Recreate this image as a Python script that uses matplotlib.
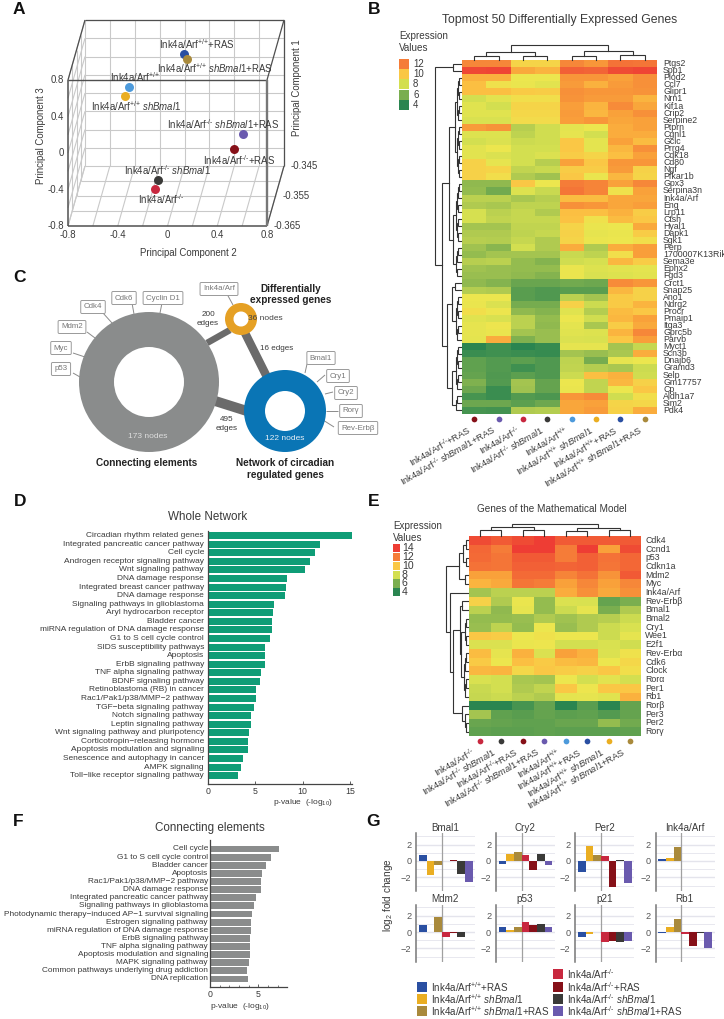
import numpy as np
import matplotlib
matplotlib.use("Agg")
import matplotlib.pyplot as plt
from matplotlib.colors import LinearSegmentedColormap
from matplotlib.patches import Wedge, Rectangle

plt.rcParams.update({
    'font.family': ['Liberation Sans', 'DejaVu Sans'],
    'mathtext.fontset': 'custom',
    'mathtext.rm': 'Liberation Sans',
    'mathtext.it': 'Liberation Sans:italic',
    'mathtext.bf': 'Liberation Sans:bold',
    'text.color': '#333333',
    'axes.unicode_minus': True,
})

W, H = 724, 1019
TXT = '#3a3a3a'

# ---------- labels / colours
WT = r'Ink4a/Arf$^{\text{+/+}}$'
KO = r'Ink4a/Arf$^{\text{-/-}}$'
SH = r'$\ \mathit{shBmal1}$'
RAS = '+RAS'
COND = {
    'wt': WT, 'wt_ras': WT + RAS, 'wt_sh': WT + SH, 'wt_sh_ras': WT + SH + RAS,
    'ko': KO, 'ko_ras': KO + RAS, 'ko_sh': KO + SH, 'ko_sh_ras': KO + SH + RAS,
}
COL = {
    'wt': '#4D9ADB', 'wt_ras': '#2A4FA2', 'wt_sh': '#EAAE22', 'wt_sh_ras': '#A98A3C',
    'ko': '#C8283F', 'ko_ras': '#861018', 'ko_sh': '#3A3A38', 'ko_sh_ras': '#6A5AAE',
}

# ---------- panel A data
pca_keys = ['wt_ras', 'wt_sh_ras', 'wt', 'wt_sh', 'ko_sh_ras', 'ko_ras', 'ko_sh', 'ko']
pca_pc2 = [0.064, 0.088, -0.378, -0.41, 0.539, 0.466, -0.145, -0.169]
pca_pc3 = [0.756, 0.701, 0.395, 0.296, -0.121, -0.285, -0.625, -0.723]
pca_pc1 = [-0.355] * 8
pca_label_pos = [(197, 44), (215, 68), (135, 77), (136, 106), (223, 124), (239, 160), (167, 170), (161, 199)]

# ---------- panel B data
b_genes = ['Ptgs2', 'Spp1', 'Plod2', 'Ccl7', 'Glipr1', 'Nrn1', 'Kif1a', 'Crip2', 'Serpine2', 'Ptprn', 'Cgnl1', 'Gclc',
           'Prrg4', 'Cdk18', 'Cd80', 'Ngf', 'Pfkar1b', 'Gpx3', 'Serpina3n', 'Ink4a/Arf', 'Eng', 'Lrp11', 'Ctsh',
           'Hyal1', 'Dapk1', 'Sgk1', 'Perp', '1700007K13Rik', 'Sema3e', 'Ephx2', 'Fgd3', 'Crct1', 'Snap25', 'Ano1',
           'Ndrg2', 'Procr', 'Pmaip1', 'Itga3', 'Gprc5b', 'Parvb', 'Myct1', 'Scn3b', 'Dnajb6', 'Gramd3', 'Selp',
           'Gm17757', 'Cp', 'Aldh1a7', 'Sim2', 'Pdk4']
b_vals = [
    [11.7, 11.7, 9.6, 9.6, 11.7, 11.3, 12.3, 12.2],
    [13.6, 13.7, 10.8, 10.5, 12.8, 12.7, 13.5, 13.7],
    [10.6, 10.6, 9, 9, 11.3, 11.3, 11, 11.5],
    [10.2, 9.2, 8.9, 8.6, 11.2, 10.6, 11.2, 11.5],
    [10.2, 10.2, 9.9, 9.8, 11.5, 11.3, 11.3, 11.4],
    [8, 8.6, 9.3, 9.3, 11.4, 11.2, 11.2, 10.5],
    [8.5, 8, 9.6, 9.6, 11.1, 10.5, 11.6, 10.9],
    [8.5, 8.5, 9.5, 9.5, 11.2, 10.4, 11, 11.5],
    [8.2, 8.2, 9.4, 9.4, 11.1, 11.3, 10.9, 11],
    [11.2, 11.4, 7.2, 7.9, 8.7, 9, 10.7, 11],
    [8.4, 8.4, 7.4, 7.9, 8.8, 8, 10.7, 10.7],
    [8, 8.3, 7.8, 7.9, 10, 8.7, 11, 10.3],
    [8.6, 9, 8, 8, 10, 8.7, 10.4, 11.5],
    [8.6, 8.3, 8, 8.3, 9.8, 9.6, 10.2, 11],
    [9.7, 8.8, 8, 7.2, 11, 10, 11.3, 11.3],
    [9.7, 9.6, 7.5, 7.7, 9.8, 9.8, 11.2, 9.7],
    [9.7, 9.3, 7, 6.7, 10, 8.9, 10.4, 9.6],
    [6.4, 6.4, 10, 9, 12, 11.8, 11, 11.7],
    [6.5, 5.8, 8.4, 7.7, 12.2, 11.8, 9.2, 11],
    [7.3, 7.3, 6.9, 7.2, 10.3, 10.3, 10.9, 10.9],
    [7, 6.9, 7.4, 7.4, 11.5, 11.3, 10.9, 11.1],
    [8.1, 7.3, 7.6, 7, 10.2, 10.2, 10.6, 9.8],
    [8.1, 7.5, 7.6, 7.6, 10.1, 9.2, 10.3, 10],
    [6.8, 6.8, 7.5, 7.5, 9.6, 8.9, 9, 10.8],
    [7, 7, 7.4, 7.6, 9.7, 8.8, 8.9, 9.8],
    [7.2, 7.1, 7.6, 7, 9.6, 8.9, 9, 9.3],
    [6.7, 6.3, 8, 7, 10.7, 7, 10.7, 11.1],
    [6.5, 6.8, 6.8, 6.8, 7.7, 7.4, 9.3, 11.1],
    [7.2, 7.3, 6.5, 6.2, 7.9, 8.1, 10.4, 9.8],
    [6.7, 6.6, 6.5, 6.5, 8.9, 8.4, 8.6, 8.7],
    [6.6, 6.6, 6.4, 6.2, 8.9, 8.2, 8.4, 8.6],
    [6.4, 6.2, 5.6, 5.6, 5.8, 5.7, 11.6, 11.3],
    [7.1, 7, 5.2, 5, 5.2, 5.2, 10.4, 9.7],
    [9, 9, 5.2, 5, 7.3, 6.8, 9.9, 9.7],
    [8.9, 8.3, 5.9, 5.9, 9.7, 7.8, 9.9, 10.5],
    [9.3, 9.1, 6.4, 6.2, 8.5, 7.1, 10.3, 10],
    [8.5, 8.2, 7.3, 6.5, 9, 7.9, 10.4, 11],
    [8.8, 9.1, 7.3, 6.4, 8.7, 6.9, 9.8, 10.8],
    [8.8, 8.9, 6.8, 6.6, 8.5, 8.4, 10.5, 11.7],
    [8.7, 10.7, 6.1, 6.6, 8.3, 8.2, 10, 11.1],
    [4.0, 4.6, 4.0, 4.4, 8.8, 8.8, 6.8, 7.6],
    [4.5, 4.6, 4.5, 4.4, 6.8, 6.6, 6.9, 10.7],
    [5.4, 5.1, 5.3, 5, 7.4, 5.9, 8.8, 9],
    [5.4, 5.1, 4.6, 5, 7.5, 7.1, 6.9, 7.8],
    [5.5, 5, 5.3, 5, 7.8, 10.2, 10.6, 7.9],
    [6.1, 5.1, 6.8, 5.5, 9, 7.5, 10.4, 9.7],
    [5.7, 4.5, 6.7, 5.5, 8.9, 7.5, 9, 10],
    [4.8, 4.5, 5.1, 4.9, 11.3, 11.6, 7.9, 9.3],
    [5.7, 5.7, 5.3, 5.7, 10.9, 11, 9.6, 9.5],
    [4.8, 4.7, 7, 7.1, 10.9, 11.2, 9.7, 10.7],
]
b_cols = ['ko_ras', 'ko_sh_ras', 'ko', 'ko_sh', 'wt', 'wt_sh', 'wt_ras', 'wt_sh_ras']

# ---------- panel E data
e_genes = ['Cdk4', 'Ccnd1', 'p53', 'Cdkn1a', 'Mdm2', 'Myc', 'Ink4a/Arf', 'Rev-Erbβ', 'Bmal1', 'Bmal2', 'Cry1', 'Wee1',
           'E2f1', 'Rev-Erbα', 'Cdk6', 'Clock', 'Rorα', 'Per1', 'Rb1', 'Rorβ', 'Per3', 'Per2', 'Rorγ']
e_vals = [
    [13.5, 13, 13.5, 14, 13, 13, 13, 13],
    [12.6, 12, 14, 14, 12, 14, 11, 13.5],
    [12.5, 12.2, 13, 13, 12, 12.8, 12.3, 12.6],
    [12.3, 12.2, 12.8, 12.8, 12.7, 12.8, 12.2, 12.6],
    [11, 11, 12.5, 12.5, 11.8, 12.3, 11.4, 13],
    [10.5, 10.8, 12.2, 12, 11, 11.7, 11, 11.7],
    [6.8, 7.3, 7.3, 7.3, 10.7, 11.5, 10.8, 11.5],
    [9.7, 7, 8.9, 6.5, 8.3, 8.2, 5.5, 6],
    [7.3, 6.4, 8.8, 6.5, 7.8, 8.8, 6, 7],
    [6.5, 6.5, 6.6, 7, 6.7, 7, 7.2, 7.8],
    [6.6, 7.4, 6.5, 9, 6.6, 7, 7.8, 8.2],
    [10, 9.8, 9, 9.2, 9, 9, 7.8, 8.8],
    [8.3, 8.3, 8.9, 9.1, 8, 8, 8.2, 7.9],
    [10.3, 8.8, 10.6, 8.3, 11, 10.6, 8.3, 9.2],
    [9.9, 9, 10.2, 9.9, 10.3, 10.4, 9, 9.5],
    [10.4, 10.5, 9.5, 10, 9.8, 9.7, 10, 9.3],
    [8.2, 8, 6.9, 6.8, 9, 8, 8.6, 8],
    [7.7, 8, 7, 7.5, 10, 9.1, 10, 10],
    [7.6, 7.8, 7.3, 7, 8.7, 8.8, 8.5, 10.6],
    [4, 4, 4.8, 5.5, 4, 5.2, 3.9, 5.5],
    [6.8, 5.4, 5.2, 5.5, 5.3, 5.4, 5.1, 5.5],
    [5.6, 5.5, 5.4, 5.4, 5.6, 5.6, 6.5, 5.8],
    [5.4, 5.3, 5.3, 5.4, 5.3, 5.3, 5.3, 5.4],
]
e_cols = ['ko', 'ko_sh', 'ko_ras', 'ko_sh_ras', 'wt', 'wt_ras', 'wt_sh', 'wt_sh_ras']

# ---------- panel C data
c_nodes = {'conn': 173, 'diff': 36, 'circ': 122}
c_edges = {'conn_diff': 200, 'diff_circ': 16, 'conn_circ': 495}

# ---------- panel D data
d_terms = ['Circadian rhythm related genes', 'Integrated pancreatic cancer pathway', 'Cell cycle',
           'Androgen receptor signaling pathway', 'Wnt signaling pathway', 'DNA damage response',
           'Integrated breast cancer pathway', 'DNA damage response', 'Signaling pathways in glioblastoma',
           'Aryl hydrocarbon receptor', 'Bladder cancer', 'miRNA regulation of DNA damage response',
           'G1 to S cell cycle control', 'SIDS susceptibility pathways', 'Apoptosis', 'ErbB signaling pathway',
           'TNF alpha signaling pathway', 'BDNF signaling pathway', 'Retinoblastoma (RB) in cancer',
           'Rac1/Pak1/p38/MMP\u22122 pathway', 'TGF\u2212beta signaling pathway', 'Notch signaling pathway',
           'Leptin signaling pathway', 'Wnt signaling pathway and pluripotency', 'Corticotropin\u2212releasing hormone',
           'Apoptosis modulation and signaling', 'Senescence and autophagy in cancer', 'AMPK signaling',
           'Toll\u2212like receptor signaling pathway']
d_vals = [15.2, 11.9, 11.3, 10.8, 10.25, 8.33, 8.26, 8.1, 7.0, 6.9, 6.8, 6.75, 6.6, 6.05, 6.05, 6.03, 5.64, 5.53,
          5.07, 5.07, 4.86, 4.6, 4.5, 4.36, 4.22, 4.2, 3.7, 3.5, 3.2]

# ---------- panel F data
f_terms = ['Cell cycle', 'G1 to S cell cycle control', 'Bladder cancer', 'Apoptosis', 'Rac1/Pak1/p38/MMP\u22122 pathway',
           'DNA damage response', 'Integrated pancreatic cancer pathway', 'Signaling pathways in glioblastoma',
           'Photodynamic therapy\u2212induced AP\u22121 survival signaling', 'Estrogen signaling pathway',
           'miRNA regulation of DNA damage response', 'ErbB signaling pathway', 'TNF alpha signaling pathway',
           'Apoptosis modulation and signaling', 'MAPK signaling pathway', 'Common pathways underlying drug addiction',
           'DNA replication']
f_vals = [7.14, 6.28, 5.76, 5.34, 5.31, 5.28, 4.72, 4.59, 4.31, 4.2, 4.2, 4.17, 4.17, 4.17, 4.03, 3.86, 3.9]

# ---------- panel G data
g_order = ['wt_ras', 'wt_sh', 'wt_sh_ras', 'ko', 'ko_ras', 'ko_sh', 'ko_sh_ras']
g_titles = ['Bmal1', 'Cry2', 'Per2', 'Ink4a/Arf', 'Mdm2', 'p53', 'p21', 'Rb1']
g_vals = [
    [0.75, -1.65, -0.5, 0.05, 0.1, -1.55, -2.5],
    [-0.4, 0.8, 1.05, 0.75, -1.05, 0.9, -0.45],
    [-1.4, 1.85, 0.75, 0.6, -3.15, 0.1, -2.65],
    [0.3, 0.4, 1.65, 0, 0, 0, 0],
    [0.9, 0.05, 1.8, -0.65, -0.15, -0.65, 0],
    [0.6, 0.3, 0.65, 1.2, 0.8, 0.95, 0.6],
    [-0.6, -0.3, 0.05, -1.25, -1.05, -1.2, -1.15],
    [-0.15, 0.55, 1.55, -0.25, -1.65, -0.15, -1.9],
]

# ---------- figure helpers
fig = plt.figure(figsize=(W / 100, H / 100), dpi=100, facecolor='white')


def axpx(x0, y0, x1, y1, **kw):
    return fig.add_axes([x0 / W, 1 - y1 / H, (x1 - x0) / W, (y1 - y0) / H], **kw)


ov = axpx(0, 0, W, H, zorder=1)
ov.set_xlim(0, W)
ov.set_ylim(H, 0)
ov.axis('off')
ov.patch.set_alpha(0)

cmap = LinearSegmentedColormap.from_list('expr', [
    (0.0, '#2A8550'), (0.1, '#2A8550'), (0.28, '#7EB04F'), (0.37, '#B3CC50'), (0.46, '#D5E050'), (0.55, '#EDE64E'),
    (0.64, '#FBC544'), (0.73, '#F9A13A'), (0.82, '#F57C38'), (0.91, '#F15A35'), (1.0, '#EE3D34')])
VMIN, VMAX = 3, 14


def T(x, y, s, size=6.5, ha='center', va='center', color=TXT, **kw):
    return ov.text(x, y, s, fontsize=size, ha=ha, va=va, color=color, **kw)


def L(xs, ys, color='#444444', lw=0.8, z=2):
    ov.plot(xs, ys, color=color, lw=lw, solid_capstyle='butt', zorder=z)


for s, x, y in [('A', 19, 9), ('B', 374, 9), ('C', 19, 277), ('D', 20, 502), ('E', 374, 501), ('F', 18, 821), ('G', 373, 822)]:
    T(x, y, s, size=12.5, fontweight='bold', color='#111111')

# ---------- Panel A: hand-made projected cube
FX0, FX1, FY0, FY1 = 68, 267, 226, 80
DX, DY = 17, 60
D0, D1 = -0.365, -0.345


def proj(pc2, pc3, pc1):
    d = (pc1 - D0) / (D1 - D0)
    return (FX0 + (pc2 + 0.8) / 1.6 * (FX1 - FX0) + d * DX,
            FY0 - (pc3 + 0.8) / 1.6 * (FY0 - FY1) - d * DY)


def seg(a, b, **kw):
    pa, pb = proj(*a), proj(*b)
    L([pa[0], pb[0]], [pa[1], pb[1]], **kw)


GRID = '#c9c9c9'
st = np.round(np.arange(-0.8, 0.81, 0.2), 1)
for v in st:
    seg((v, -0.8, D1), (v, 0.8, D1), color=GRID)
    seg((-0.8, v, D1), (0.8, v, D1), color=GRID)
    seg((v, -0.8, D0), (v, -0.8, D1), color=GRID)
    seg((-0.8, v, D0), (-0.8, v, D1), color=GRID)
for d in [-0.36, -0.355, -0.35]:
    seg((-0.8, -0.8, d), (0.8, -0.8, d), color=GRID)
    seg((-0.8, -0.8, d), (-0.8, 0.8, d), color=GRID)
DK = '#4f4f4f'
seg((-0.8, 0.8, D0), (-0.8, 0.8, D1), color=DK, lw=0.9)
seg((-0.8, 0.8, D1), (0.8, 0.8, D1), color=DK, lw=0.9)
seg((0.8, 0.8, D1), (0.8, -0.8, D1), color=DK, lw=0.9)
seg((0.8, 0.8, D0), (0.8, 0.8, D1), color=DK, lw=0.9)
seg((0.8, -0.8, D0), (0.8, -0.8, D1), color=DK, lw=0.9)
seg((-0.8, 0.8, D0), (0.8, 0.8, D0), color=DK, lw=1.0, z=5)
seg((-0.8, -0.8, D0), (-0.8, 0.8, D0), color=DK, lw=1.1, z=5)
seg((-0.8, -0.8, D0), (0.8, -0.8, D0), color=DK, lw=1.1, z=5)
seg((0.8, -0.8, D0), (0.8, 0.8, D0), color='#777777', lw=1.7, z=5)
for k, a, b, c, lp in zip(pca_keys, pca_pc2, pca_pc3, pca_pc1, pca_label_pos):
    px, py = proj(a, b, c)
    ov.scatter([px], [py], s=42, color=COL[k], zorder=7, linewidths=0)
    T(lp[0], lp[1], COND[k], size=6.9, zorder=8)
for v in [-0.8, -0.4, 0, 0.4, 0.8]:
    p = proj(v, -0.8, D0)
    T(p[0], p[1] + 9, f'{v:g}', size=6.9)
    p = proj(-0.8, v, D0)
    T(p[0] - 4, p[1], f'{v:g}', size=6.9, ha='right')
for v in [-0.365, -0.355, -0.345]:
    p = proj(0.8, -0.8, v)
    T(p[0] + 7, p[1], f'{v:g}', size=6.9, ha='left')
T(188, 253, 'Principal Component 2', size=6.9)
T(41, 136, 'Principal Component 3', size=6.9, rotation=90)
T(297, 88, 'Principal Component 1', size=6.9, rotation=90)


# ---------- dendrograms
def draw_row_tree(node, xright, ycent, color='#333333', lw=0.8):
    if isinstance(node, int):
        return ycent(node), xright
    d, a, b = node
    ya, xa = draw_row_tree(a, xright, ycent, color, lw)
    yb, xb = draw_row_tree(b, xright, ycent, color, lw)
    x = xright - d
    ov.plot([xa, x, x, xb], [ya, ya, yb, yb], color=color, lw=lw, solid_joinstyle='miter', zorder=3)
    return (ya + yb) / 2, x


def draw_col_tree(node, ybase, xcent, color='#333333', lw=0.8):
    if isinstance(node, int):
        return xcent(node), ybase
    h, a, b = node
    xa, ya = draw_col_tree(a, ybase, xcent, color, lw)
    xb, yb = draw_col_tree(b, ybase, xcent, color, lw)
    y = ybase - h
    ov.plot([xa, xa, xb, xb], [ya, y, y, yb], color=color, lw=lw, solid_joinstyle='miter', zorder=3)
    return (xa + xb) / 2, y


def bal(a, b, d):
    if a == b:
        return a
    m = (a + b) // 2
    return (d, bal(a, m, d * 0.72), bal(m + 1, b, d * 0.72))


def heatmap(vals, genes, box, cols, row_tree, col_tree, glabel_x, gsize, dot_y, lab_off, lab_size):
    x0, y0, x1, y1 = box
    ax = axpx(x0, y0, x1, y1, zorder=0)
    ax.pcolormesh(np.array(vals)[::-1], cmap=cmap, vmin=VMIN, vmax=VMAX, linewidth=0, rasterized=True)
    ax.set_xticks([])
    ax.set_yticks([])
    for s in ax.spines.values():
        s.set_visible(False)
    nr, nc = len(genes), len(cols)
    rh, cw = (y1 - y0) / nr, (x1 - x0) / nc
    for i, g in enumerate(genes):
        T(glabel_x, y0 + (i + .5) * rh, g, size=gsize, ha='left')
    draw_row_tree(row_tree, x0 - 1, lambda i: y0 + (i + .5) * rh)
    draw_col_tree(col_tree, y0 - 0.5, lambda i: x0 + (i + .5) * cw)
    for j, k in enumerate(cols):
        cx = x0 + (j + .5) * cw
        ov.scatter([cx], [dot_y], s=17, color=COL[k], linewidths=0, zorder=4)
        T(cx + lab_off[0], dot_y + lab_off[1], COND[k], size=lab_size, rotation=30, ha='right', va='center',
          rotation_mode='anchor')


# ---------- Panel B
T(560, 20, 'Topmost 50 Differentially Expressed Genes', size=8.8)
T(399, 36, 'Expression', size=7.1, ha='left')
T(399, 48, 'Values', size=7.1, ha='left')
for v, y in zip([12, 10, 8, 6, 4], [64, 74, 84, 95, 105]):
    ov.add_patch(Rectangle((399, y - 4.8), 10, 9.6, fc=cmap((v - VMIN) / (VMAX - VMIN)), ec='none'))
    T(413, y, str(v), size=6.9, ha='left')
b_rows = (26, (8, 0, 1),
          (19, (12, (6.5, bal(2, 8, 4), bal(9, 16, 4)), (8, bal(17, 25, 5), bal(26, 30, 5))),
           (14, (9, bal(31, 32, 6), bal(33, 39, 5)), (9, bal(40, 46, 5), bal(47, 49, 5)))))
b_colt = (15, (8, (3.5, 0, 1), (3.5, 2, 3)), (9, (3.5, 4, 5), (4.5, 6, 7)))
heatmap(b_vals, b_genes, (462, 60, 657, 414), b_cols, b_rows, b_colt, 663, 6.3, 419, (-4, 10), 6.7)

# ---------- Panel E
T(552, 509, 'Genes of the Mathematical Model', size=7.2)
T(393, 526, 'Expression', size=7.1, ha='left')
T(393, 538, 'Values', size=7.1, ha='left')
for v, y in zip([14, 12, 10, 8, 6, 4], [548, 557, 566, 575, 583.5, 592]):
    ov.add_patch(Rectangle((393, y - 4.4), 7, 8.8, fc=cmap((v - VMIN) / (VMAX - VMIN)), ec='none'))
    T(402, y, str(v), size=7.6, ha='left')
e_rows = (22, (9, (5, (2.5, 0, 1), (2.5, 2, 3)), (3, 4, 5)),
          (18, 6, (15, (8, (6, 7, 8), (7, bal(9, 12, 3), bal(13, 18, 4))), (6, 19, (3.5, 20, (2, 21, 22))))))
e_colt = (11.5, (9, (5.5, 0, 1), (6, 2, 3)), (8, (5, 4, 5), (6, 6, 7)))
heatmap(e_vals, e_genes, (469, 536, 641, 736), e_cols, e_rows, e_colt, 645, 6.3, 741, (-6, 10), 6.7)

# ---------- Panel C
rings = {'conn': (149, 382, 70, 35, '#8A8C8C'), 'diff': (241, 319, 16, 7.5, '#E5A024'), 'circ': (285, 411, 41, 20, '#0A75B5')}
c_links = [((207, 343), (230, 330), 6.5), ((245, 333), (268, 379), 8.5), ((212, 400), (250, 412), 10)]
for (xa, ya), (xb, yb), w in c_links:
    ov.plot([xa, xb], [ya, yb], color='#6B6B6B', lw=w * 0.72, solid_capstyle='butt', zorder=1)
for cx, cy, ro, ri, c in rings.values():
    ov.add_patch(Wedge((cx, cy), ro, 0, 360, width=ro - ri, fc=c, ec='none', zorder=2))
T(208, 319, f"{c_edges['conn_diff']}\nedges", size=5.9, linespacing=1.25, zorder=6)
T(277, 349, f"{c_edges['diff_circ']} edges", size=5.8, zorder=6)
T(227, 424, f"{c_edges['conn_circ']}\nedges", size=5.9, linespacing=1.25, zorder=6)
T(265, 318, f"{c_nodes['diff']} nodes", size=6.0, color='#444444', zorder=6)
T(148, 436, f"{c_nodes['conn']} nodes", size=6.0, color='#dddddd', zorder=6)
T(285, 439, f"{c_nodes['circ']} nodes", size=6.0, color='#e6eef5', zorder=6)
T(291, 294.5, 'Differentially\nexpressed genes', size=7.2, fontweight='bold', linespacing=1.15, color='#222222', zorder=6)
T(147, 463, 'Connecting elements', size=7.2, fontweight='bold', color='#222222')
T(285, 469, 'Network of circadian\nregulated genes', size=7.2, fontweight='bold', linespacing=1.15, color='#222222')
c_boxes = [('Ink4a/Arf', 219, 289, (227, 233), (294, 305)), ('Cyclin D1', 163, 298, (162, 160), (303, 313)),
           ('Cdk6', 124, 298, (132, 134), (303, 314)), ('Cdk4', 93, 307, (103, 112), (313, 323)),
           ('Mdm2', 72, 327, (87, 95), (332, 338)), ('Myc', 61, 348, (73, 85), (353, 357)),
           ('p53', 61, 369, (73, 80), (373, 377)), ('Bmal1', 321, 358, (307, 305), (364, 373)),
           ('Cry1', 338, 376, (325, 317), (375, 382)), ('Cry2', 346, 393, (333, 325), (392, 394)),
           ('Rorγ', 351, 411, (338, 326), (411, 411)), ('Rev-Erbβ', 358, 428, (334, 323), (427, 420))]
for name, x, y, lx, ly in c_boxes:
    L(lx, ly, color='#8a8a8a', lw=0.7, z=1)
    T(x, y, name, size=5.7, color='#777777', zorder=6,
      bbox=dict(boxstyle='round,pad=0.38,rounding_size=0.15', fc='white', ec='#9a9a9a', lw=0.7))


# ---------- bar panels D / F
def barpanel(terms, vals, spine_x, xmax_px, px_per, y_first, y_step, y_top, y_bot, color, ticks, minor, lab_x, lab_size, bar_frac, lw):
    ax = axpx(spine_x, y_top, xmax_px, y_bot, zorder=0)
    ax.set_xlim(0, (xmax_px - spine_x) / px_per)
    ax.set_ylim((y_bot - y_first) / y_step, (y_top - y_first) / y_step)
    ax.barh(np.arange(len(vals)), vals, height=bar_frac, color=color, linewidth=0)
    ax.patch.set_alpha(0)
    for s in ['top', 'right']:
        ax.spines[s].set_visible(False)
    for s in ['left', 'bottom']:
        ax.spines[s].set_color('#444444')
        ax.spines[s].set_linewidth(lw)
    ax.set_yticks([])
    ax.set_xticks(ticks)
    ax.set_xticklabels([str(t) for t in ticks], fontsize=6.3, color=TXT)
    if minor:
        ax.set_xticks(minor, minor=True)
        ax.tick_params(axis='x', which='minor', direction='in', length=1.5, width=0.5, color='#444444')
    ax.tick_params(axis='x', which='major', direction='in', length=2, width=0.6, color='#444444', pad=2.5)
    for i, t in enumerate(terms):
        T(lab_x, y_first + i * y_step, t, size=lab_size, ha='right')
    return ax


T(208, 517, 'Whole Network', size=8.4)
barpanel(d_terms, d_vals, 208, 352, 9.45, 535.7, 8.571, 531, 784, '#0F9D77', [0, 5, 10, 15], None, 204, 6.05, 0.82, 0.9)
T(303, 803, r'p-value  (-log$_{10}$)', size=6.0)

T(210, 828, 'Connecting elements', size=8.4)
barpanel(f_terms, f_vals, 210, 287, 9.67, 849, 8.125, 840, 987, '#8A8C8C', [0, 5], [1, 2, 3, 4, 6, 7], 208, 5.95, 0.85, 0.9)
T(240, 1006, r'p-value  (-log$_{10}$)', size=6.0)

# ---------- Panel G
g_lefts = [416.3, 496, 575.3, 655.7]
g_rows = [(833, 891), (905, 962)]
PX_UNIT = 8.2
for idx, (title, vals) in enumerate(zip(g_titles, g_vals)):
    r, c = divmod(idx, 4)
    x0 = g_lefts[c]
    y0, y1 = g_rows[r]
    zero = 861 if r == 0 else 932
    ax = axpx(x0, y0, x0 + 59, y1, zorder=0)
    ax.set_xlim(-0.85, 6.85)
    ax.set_ylim((zero - y1) / PX_UNIT, (zero - y0) / PX_UNIT)
    ax.patch.set_alpha(0)
    for s in ['top', 'right', 'bottom']:
        ax.spines[s].set_visible(False)
    ax.spines['left'].set_color('#777777')
    ax.spines['left'].set_linewidth(1.1)
    for v in [-3, -2, -1, 0, 1, 2, 3]:
        ax.axhline(v, color='#e4e4ec', lw=1.0 if v % 2 == 0 else 0.6, zorder=0)
    ax.axvline(2.5, color='#a0a0a0', lw=0.9, zorder=1)
    ax.bar(np.arange(7), vals, width=1.0, color=[COL[k] for k in g_order], linewidth=0, zorder=2)
    ax.set_xticks([])
    ax.set_yticks([-2, 0, 2])
    ax.set_yticklabels(['\u22122', '0', '2'], fontsize=6.6, color='#555555')
    ax.tick_params(axis='y', length=0, pad=3.5)
    T(x0 + 29, 828 if r == 0 else 899, title, size=7.1)
T(388, 895, r'log$_2$ fold change', size=7.2, rotation=90)
g_leg = [('wt_ras', 422, 987), ('wt_sh', 422, 999), ('wt_sh_ras', 422, 1011),
         ('ko', 558, 974), ('ko_ras', 558, 987), ('ko_sh', 558, 999), ('ko_sh_ras', 558, 1011)]
for k, x, y in g_leg:
    ov.add_patch(Rectangle((x - 5, y - 5), 10, 10, fc=COL[k], ec='none'))
    T(x + 9, y, COND[k], size=7.1, ha='left')

fig.savefig('out.png', dpi=100, facecolor='white')
